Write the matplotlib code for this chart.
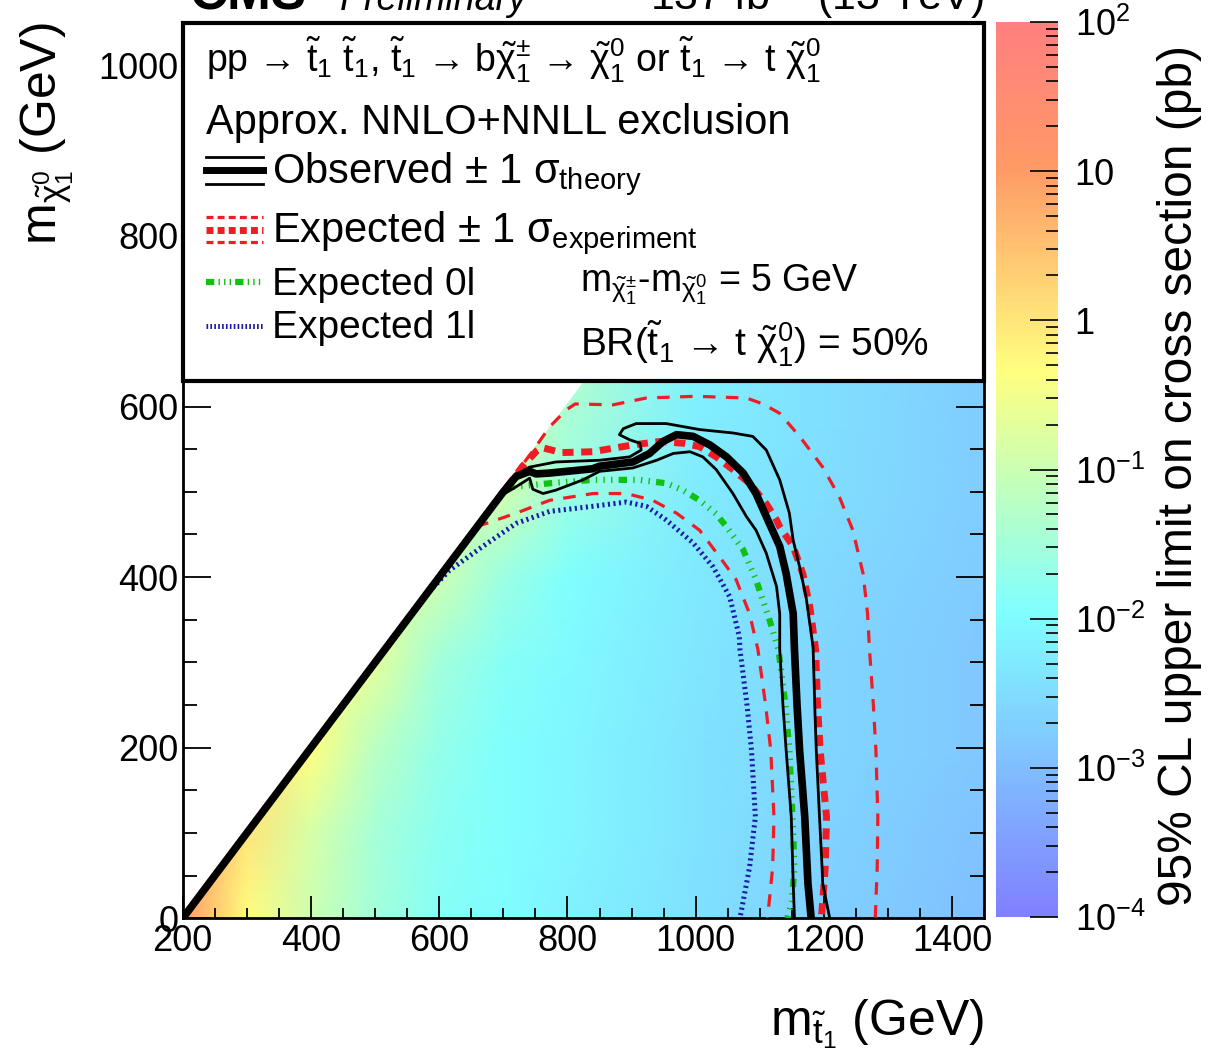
import numpy as np
import matplotlib as mpl
import matplotlib.pyplot as plt
from matplotlib.colors import LinearSegmentedColormap, LogNorm
from matplotlib.patches import Rectangle
from matplotlib.ticker import MultipleLocator, LogLocator, NullFormatter

plt.rcParams['font.family'] = ['Liberation Sans', 'DejaVu Sans']
plt.rcParams['mathtext.fontset'] = 'custom'
plt.rcParams['mathtext.rm'] = 'Liberation Sans'
plt.rcParams['mathtext.it'] = 'Liberation Sans'
plt.rcParams['mathtext.bf'] = 'Liberation Sans:bold'
plt.rcParams['mathtext.sf'] = 'Liberation Sans'
plt.rcParams['lines.scale_dashes'] = False

# ---- palette (CMS SUSY style) ----
pal_stops = [0.00, 0.34, 0.61, 0.84, 1.00]
pal_red = [0.50, 0.50, 1.00, 1.00, 1.00]
pal_green = [0.50, 1.00, 1.00, 0.60, 0.50]
pal_blue = [1.00, 1.00, 0.50, 0.40, 0.50]

# ---- upper limit map, log10(pb) ----
grid_x = [200, 300, 400, 500, 600, 700, 800, 1000, 1200, 1450]
grid_y = [0, 100, 200, 300, 400, 500, 650]
log_limit = [
    [1.0, -0.3, -1.0, -1.5, -1.85, -2.0, -2.15, -2.45, -2.7, -2.95],
    [1.0, 0.0, -0.85, -1.45, -1.8, -1.95, -2.1, -2.4, -2.65, -2.9],
    [1.0, 0.2, -0.35, -1.2, -1.7, -1.95, -2.1, -2.4, -2.6, -2.85],
    [1.0, 0.2, -0.35, -0.7, -1.5, -1.85, -2.05, -2.35, -2.6, -2.85],
    [1.0, 0.2, -0.35, -0.7, -1.0, -1.6, -1.95, -2.3, -2.55, -2.8],
    [1.0, 0.2, -0.35, -0.7, -1.0, -0.95, -1.6, -2.25, -2.5, -2.75],
    [1.0, 0.2, -0.35, -0.7, -1.0, -0.95, -1.3, -2.15, -2.45, -2.75],
]

# ---- contours ----
obs_x = [200, 700, 720, 741, 751, 772, 839, 850, 902, 928, 949, 970, 996, 1022, 1048, 1074,
         1094, 1110, 1131, 1141, 1152, 1154, 1158, 1162, 1170, 1175, 1180]
obs_y = [0, 500, 518, 524, 521, 522, 527, 530, 535, 545, 559, 567, 565, 555, 541, 522,
         498, 471, 436, 404, 357, 315, 250, 197, 119, 41, 0]

obs_up_x = [695, 720, 741, 782, 850, 897, 915, 913, 897, 881, 887, 907, 954, 1006, 1058, 1089,
            1110, 1131, 1146, 1152, 1162, 1172, 1183, 1186, 1188, 1193, 1197, 1198, 1209]
obs_up_y = [496, 520, 529, 535, 537, 541, 549, 557, 561, 567, 574, 580, 580, 573, 569, 565,
            549, 514, 475, 443, 412, 377, 318, 240, 197, 119, 60, 41, 0]

obs_dn_x = [700, 718, 741, 746, 762, 782, 824, 850, 902, 939, 965, 991, 1011, 1032, 1058, 1079,
            1094, 1110, 1126, 1131, 1131, 1136, 1141, 1149, 1152, 1154]
obs_dn_y = [497, 505, 516, 503, 498, 502, 514, 524, 528, 537, 545, 547, 541, 526, 498, 471,
            455, 428, 389, 357, 315, 250, 197, 119, 41, 0]

exp_x = [705, 730, 752, 760, 790, 839, 902, 944, 980, 1006, 1032, 1058, 1084, 1110, 1126, 1131,
         1152, 1167, 1178, 1187, 1190, 1194, 1204, 1202, 1196]
exp_y = [505, 530, 548, 552, 546, 547, 555, 559, 557, 553, 541, 526, 510, 486, 467, 459,
         436, 404, 365, 315, 250, 197, 119, 60, 0]

exp_up_x = [690, 720, 746, 772, 798, 812, 871, 923, 1000, 1079, 1105, 1131, 1162, 1198, 1224,
            1245, 1261, 1268, 1271, 1277, 1281, 1284, 1283, 1280]
exp_up_y = [492, 522, 548, 576, 596, 603, 602, 610, 612, 610, 603, 592, 565, 529, 494,
            455, 404, 357, 315, 250, 197, 119, 60, 0]

exp_dn_x = [658, 720, 772, 840, 892, 933, 970, 1006, 1037, 1063, 1084, 1097, 1109, 1117, 1122,
            1120, 1112]
exp_dn_y = [459, 475, 490, 498, 498, 490, 475, 455, 424, 397, 357, 315, 250, 197, 119, 60, 0]

exp0l_x = [705, 772, 839, 913, 954, 980, 1006, 1032, 1048, 1074, 1094, 1115, 1129, 1140, 1146,
           1151, 1154, 1150, 1143]
exp0l_y = [505, 510, 514, 514, 510, 502, 490, 474, 459, 432, 397, 350, 315, 250, 197,
           119, 60, 20, 0]

exp1l_x = [578, 616, 668, 720, 772, 839, 892, 923, 954, 996, 1027, 1053, 1068, 1069, 1080,
           1087, 1093, 1084, 1069]
exp1l_y = [378, 408, 436, 463, 477, 483, 488, 483, 467, 440, 412, 377, 330, 315, 250,
           197, 119, 60, 0]

cb_ticks = [1e-4, 1e-3, 1e-2, 1e-1, 1, 10, 100]
cb_labels = [r'$10^{-4}$', r'$10^{-3}$', r'$10^{-2}$', r'$10^{-1}$', '1', '10', r'$10^{2}$']

cmap = LinearSegmentedColormap.from_list(
    'cms', list(zip(pal_stops, zip(pal_red, pal_green, pal_blue))))

W, H = 1213, 1064
fig = plt.figure(figsize=(W / 100, H / 100), dpi=100)
ax = fig.add_axes([182.7 / W, (H - 918.3) / H, 801.6 / W, 895.6 / H])

X, Y = np.meshgrid(grid_x, grid_y)
ax.pcolormesh(X, Y, np.array(log_limit), shading='gouraud', cmap=cmap, vmin=-4, vmax=2, zorder=0)
# nothing above the diagonal
ax.fill_between([200, 1450], [4, 1254], 1100, color='white', lw=0, zorder=1)

red = '#ee1c24'
green = '#12c012'
blue = '#1a1aa6'
ax.plot(exp1l_x, exp1l_y, color=blue, lw=3.6, ls=(0, (1.5, 2.5)), zorder=3)
ax.plot(exp0l_x, exp0l_y, color=green, lw=4.5,
        ls=(0, (6, 4.5, 1, 4.5, 1, 4.5, 1, 4.5)), zorder=3)
ax.plot(exp_up_x, exp_up_y, color=red, lw=2.3, ls=(0, (9, 7.5)), zorder=3)
ax.plot(exp_dn_x, exp_dn_y, color=red, lw=2.3, ls=(0, (9, 7.5)), zorder=3)
ax.plot(exp_x, exp_y, color=red, lw=5, ls=(0, (8, 5.5)), zorder=3)
ax.plot(obs_up_x, obs_up_y, color='black', lw=2, zorder=4)
ax.plot(obs_dn_x, obs_dn_y, color='black', lw=2, zorder=4)
ax.plot(obs_x, obs_y, color='black', lw=5.5, zorder=4)

ax.set_xlim(200, 1450)
ax.set_ylim(0, 1050)
ax.xaxis.set_major_locator(MultipleLocator(200))
ax.xaxis.set_minor_locator(MultipleLocator(50))
ax.yaxis.set_major_locator(MultipleLocator(200))
ax.yaxis.set_minor_locator(MultipleLocator(50))
ax.tick_params(which='both', direction='in', top=True, right=True, width=1.3, labelsize=26)
ax.tick_params(axis='x', which='major', length=16, pad=4)
ax.tick_params(axis='x', which='minor', length=7.5)
ax.tick_params(axis='y', which='major', length=20, pad=3)
ax.tick_params(axis='y', which='minor', length=10)
for sp in ax.spines.values():
    sp.set_linewidth(2)

# ---- legend box ----
ax.add_patch(Rectangle((0, 0.6), 1, 0.4, transform=ax.transAxes, fc='white', ec='black',
                       lw=3, zorder=5, clip_on=False))
tkw = dict(transform=ax.transAxes, zorder=7, clip_on=False)
lx = [0.0291, 0.1002]
ax.plot(lx, [0.850, 0.850], color='black', lw=2, **tkw)
ax.plot(lx, [0.836, 0.836], color='black', lw=5, **tkw)
ax.plot(lx, [0.820, 0.820], color='black', lw=2, **tkw)
ax.plot(lx, [0.783, 0.783], color=red, lw=2.3, ls=(0, (5, 3)), **tkw)
ax.plot(lx, [0.768, 0.768], color=red, lw=5, ls=(0, (5, 3)), **tkw)
ax.plot(lx, [0.755, 0.755], color=red, lw=2.3, ls=(0, (5, 3)), **tkw)
ax.plot(lx, [0.710, 0.710], color=green, lw=4.5, ls=(0, (6, 3, 1, 3, 1, 3, 1, 3)), **tkw)
ax.plot(lx, [0.661, 0.661], color=blue, lw=3.6, ls=(0, (1.2, 1.6)), **tkw)

ax.text(0.0291, 0.944, r'pp → $\tilde{t}_{1}$ $\tilde{t}_{1}$, $\tilde{t}_{1}$ → '
        r'b$\tilde{\chi}^{\pm}_{1}$ → $\tilde{\chi}^{0}_{1}$ or $\tilde{t}_{1}$ '
        r'→ t $\tilde{\chi}^{0}_{1}$', fontsize=27, va='baseline', **tkw)
ax.text(0.0291, 0.876, 'Approx. NNLO+NNLL exclusion', fontsize=30, va='baseline', **tkw)
ax.text(0.1114, 0.821, r'Observed $\pm$ 1 $\sigma_{\mathrm{theory}}$', fontsize=30,
        va='baseline', **tkw)
ax.text(0.1114, 0.755, r'Expected $\pm$ 1 $\sigma_{\mathrm{experiment}}$', fontsize=30,
        va='baseline', **tkw)
ax.text(0.1114, 0.696, 'Expected 0l', fontsize=28, va='baseline', **tkw)
ax.text(0.1114, 0.648, 'Expected 1l', fontsize=28, va='baseline', **tkw)
ax.text(0.4956, 0.700, r'm$_{\tilde{\chi}^{\pm}_{1}}$-m$_{\tilde{\chi}^{0}_{1}}$ = 5 GeV',
        fontsize=27, va='baseline', **tkw)
ax.text(0.4956, 0.627, r'BR($\tilde{t}_{1}$ → t $\tilde{\chi}^{0}_{1}$) = 50%',
        fontsize=28, va='baseline', **tkw)

# ---- colour bar ----
cax = fig.add_axes([996 / W, (H - 917) / H, 62 / W, 895 / H])
sm = mpl.cm.ScalarMappable(norm=LogNorm(1e-4, 1e2), cmap=cmap)
cb = fig.colorbar(sm, cax=cax)
cb.outline.set_visible(False)
cb.set_ticks(cb_ticks, labels=cb_labels)
cax.yaxis.set_minor_locator(LogLocator(base=10, subs=np.arange(2, 10), numticks=20))
cax.yaxis.set_minor_formatter(NullFormatter())
cax.tick_params(which='both', direction='in', right=True, left=False, width=1.2,
                labelsize=26, pad=12)
cax.tick_params(which='major', length=20)
cax.tick_params(which='minor', length=9)

fig.text(1180 / W, 1 - 475 / H, '95% CL upper limit on cross section (pb)', rotation=90,
         ha='center', va='center', fontsize=34.5)

# ---- axis titles ----
fig.text(984 / W, 1 - 1035 / H, r'm$_{\tilde{t}_{1}}$ (GeV)', ha='right', va='baseline',
         fontsize=36)
fig.text(18 / W, 1 - 22 / H, r'm$_{\tilde{\chi}^{0}_{1}}$ (GeV)', rotation=90, ha='left',
         va='top', fontsize=36)

# ---- header (cut off at the top) ----
fig.text(190 / W, 1 - 10 / H, 'CMS', fontweight='bold', fontsize=38, va='baseline')
fig.text(340 / W, 1 - 10 / H, 'Preliminary', fontstyle='italic', fontsize=27, va='baseline')
fig.text(984 / W, 1 - 10 / H, r'137 fb$^{-1}$ (13 TeV)', ha='right', fontsize=31,
         va='baseline')

fig.savefig('out.png', dpi=100)
